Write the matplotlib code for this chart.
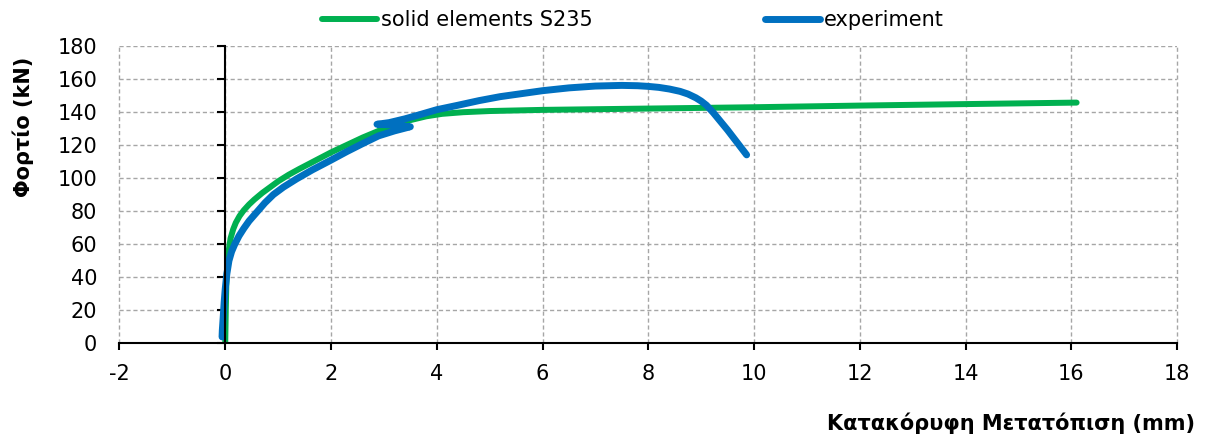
import matplotlib
matplotlib.use("Agg")
import matplotlib.pyplot as plt

# vertical displacement (mm) / load (kN)
solid_x = [0.0, 0.01, 0.02, 0.04, 0.07, 0.1, 0.15, 0.2, 0.27, 0.35, 0.45, 0.55,
           0.7, 0.85, 1.0, 1.2, 1.4, 1.7, 2.0, 2.3, 2.6, 2.9, 3.2, 3.5, 3.8, 4.1,
           4.5, 5.0, 6.0, 7.0, 8.0, 10.0, 12.0, 14.0, 16.1]
solid_y = [0, 20, 35, 48, 57, 63.5, 69, 73, 77, 80.5, 84, 87,
           91, 94.5, 98, 102, 105.5, 110.5, 115.5, 120, 124.5, 128.5, 132, 135, 137.3, 138.8,
           139.8, 140.5, 141.2, 141.6, 142, 142.8, 143.8, 144.7, 145.6]

exp_x = [-0.06, -0.055, -0.04, -0.02, 0.0, 0.03, 0.07, 0.12, 0.18, 0.26, 0.35, 0.45,
         0.6, 0.75, 0.91, 1.1, 1.35, 1.65, 1.98, 2.3, 2.61, 2.9, 3.2, 3.5,
         3.2, 2.87, 3.1, 3.4, 3.7, 4.0, 4.4, 4.8, 5.2, 5.6, 6.0, 6.5, 7.0, 7.5,
         7.8, 8.0, 8.2, 8.4, 8.6, 8.75, 8.9, 9.0, 9.1, 9.23, 9.5, 9.86]
exp_y = [4, 8, 15, 25, 33, 42, 50, 55.5, 60, 65, 69.5, 74,
         79.5, 85, 90, 94.5, 99.5, 105, 110.5, 116, 121, 125.5, 128.5, 131,
         132, 132.5, 133.5, 135.8, 138.5, 141.3, 144, 146.8, 149.2, 151, 152.8, 154.5, 155.6, 156,
         155.8, 155.4, 154.8, 153.8, 152.4, 150.8, 148.5, 146.5, 144, 139.5, 129, 114]

x_ticks = list(range(-2, 19, 2))
y_ticks = list(range(0, 181, 20))

GREEN = "#00B050"
BLUE = "#0070C0"

plt.rcParams['font.family'] = ['DejaVu Sans']
plt.rcParams['axes.unicode_minus'] = False

fig = plt.figure(figsize=(12.08, 4.41), dpi=100)
ax = fig.add_axes([0.0989, 0.2211, 0.8755, 0.6753])

ax.plot(solid_x, solid_y, color=GREEN, lw=4.3, solid_capstyle='round',
        solid_joinstyle='round', label="solid elements S235")
ax.plot(exp_x, exp_y, color=BLUE, lw=5, solid_capstyle='round',
        solid_joinstyle='round', label="experiment")

ax.set_xlim(-2, 18)
ax.set_ylim(0, 180)
ax.set_xticks(x_ticks)
ax.set_yticks(y_ticks)

ax.grid(True, color="#A6A6A6", linestyle=(0, (3, 2)), lw=1)
for gl in ax.get_xgridlines() + ax.get_ygridlines():
    gl.set_clip_on(False)
ax.set_axisbelow(True)

# value axis crosses at x = 0, its numbers stay at the left edge
for side in ("top", "right"):
    ax.spines[side].set_visible(False)
ax.spines["left"].set_position(("data", 0))
ax.spines["left"].set_linewidth(1.5)
ax.spines["left"].set_zorder(3)
ax.spines["bottom"].set_linewidth(1.5)
ax.spines["bottom"].set_zorder(3)
ax.tick_params(axis="x", direction="out", length=5, width=1.5, pad=10, labelsize=15)
ax.tick_params(axis="y", direction="out", length=6, width=1.5, labelleft=False)

ylab = ax.secondary_yaxis(0.0)
ylab.spines["left"].set_visible(False)
ylab.set_yticks(y_ticks)
ylab.tick_params(axis="y", length=0, pad=16, labelsize=15)

ax.set_ylabel("Φορτίο (kN)", fontsize=15, fontweight="bold")
ax.yaxis.set_label_coords(-0.081, 0.727)
ax.set_xlabel("Κατακόρυφη Μετατόπιση (mm)", fontsize=15, fontweight="bold", ha="right")
ax.xaxis.set_label_coords(1.017, -0.233)

fig.legend(loc="center", bbox_to_anchor=(0.524, 0.955), ncol=2, frameon=False,
           fontsize=15, handlelength=2.6, handletextpad=0.2, columnspacing=8.3)

fig.savefig("out.png", dpi=100)
